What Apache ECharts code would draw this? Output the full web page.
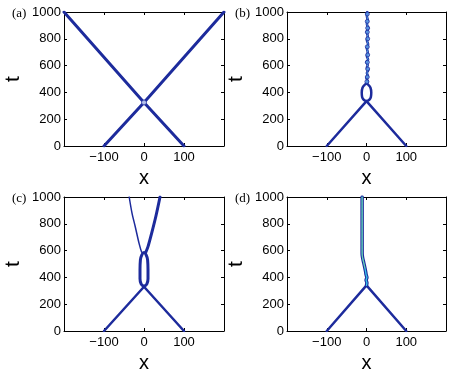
<!DOCTYPE html>
<html>
<head>
<meta charset="utf-8">
<script src="https://cdn.jsdelivr.net/npm/echarts@6/dist/echarts.min.js"></script>
<style>
  html, body { margin: 0; padding: 0; background: #fff; }
  #chart { width: 451px; height: 376px; }
</style>
</head>
<body>
<div id="chart"></div>
<script>
// tick labels
var xTicks = [-200, -100, 0, 100, 200];
var tTicks = [0, 200, 400, 600, 800, 1000];
var panelNames = ['(a)', '(b)', '(c)', '(d)'];

// (a) two solitons pass through each other
var aLine1 = [[-100, 0], [0, 325], [200, 1000]];
var aLine2 = [[100, 0], [0, 325], [-200, 1000]];
var aSpot = [[0, 325]];

// (b) bound state, oval then a chain of small loops
var bLeft = [[-100, 0], [0, 335]];
var bRight = [[100, 0], [0, 335]];
var bOval = [[0, 335], [-7, 345], [-11, 365], [-12, 400], [-10, 435], [-5, 455], [0, 465],
  [5, 455], [10, 435], [12, 400], [11, 365], [7, 345], [0, 335]];
var bChain = [[1, 465], [3, 485], [0, 505], [3, 525], [1, 545], [4, 565], [1, 585], [3, 605],
  [0, 625], [4, 645], [1, 670], [3, 700], [1, 730], [4, 760], [1, 790], [3, 820], [1, 850],
  [4, 880], [1, 910], [3, 940], [1, 970], [2, 1000]];
var bBeads = [[1, 480], [2, 515], [3, 575], [2, 625], [3, 680], [2, 740], [3, 800],
  [2, 850], [3, 880], [2, 930], [2, 985]];

// (c) oval, then the pair separates
var cLeft = [[-100, 0], [0, 330]];
var cRight = [[100, 0], [0, 330]];
var cOval = [[0, 335], [-7, 350], [-10, 390], [-10, 460], [-9, 530], [-5, 570], [0, 585],
  [5, 570], [9, 530], [10, 460], [10, 390], [7, 350], [0, 335]];
var cUpLeft = [[-2, 580], [-6, 590], [-12, 650], [-22, 780], [-30, 880], [-37, 1000]];
var cUpRight = [[4, 585], [10, 630], [20, 740], [30, 860], [40, 1000]];

// (d) fusion into one
var dLeft = [[-100, 0], [0, 340]];
var dRight = [[100, 0], [0, 340]];
var dUp = [[0, 340], [1, 360], [-1, 380], [1, 400], [-1, 420], [-2, 440], [-4, 470],
  [-7, 510], [-10, 550], [-11, 580], [-11, 700], [-11, 850], [-11, 1000]];
var dCore = [[-4, 470], [-7, 510], [-10, 550], [-11, 580], [-11, 700], [-11, 850], [-11, 1000]];

var blue = '#1d2b9c';
var grids = [
  { left: 64, top: 12, width: 160, height: 134 },
  { left: 287, top: 12, width: 159, height: 134 },
  { left: 64, top: 197, width: 160, height: 134 },
  { left: 287, top: 197, width: 159, height: 134 }
];

var font = 'Liberation Sans, Arial, Helvetica, sans-serif';
var xAxes = [], yAxes = [], series = [], graphics = [];

grids.forEach(function (g, i) {
  var lineStyle = { color: '#000', width: 1 };
  xAxes.push({
    gridIndex: i, type: 'value', min: xTicks[0], max: xTicks[xTicks.length - 1], interval: 100,
    position: 'bottom',
    name: 'x', nameLocation: 'middle', nameGap: 22,
    nameTextStyle: { fontFamily: font, fontSize: 20, color: '#000' },
    axisLine: { show: true, onZero: false, lineStyle: lineStyle },
    axisTick: { show: true, inside: true, length: 3, lineStyle: lineStyle },
    axisLabel: {
      fontFamily: font, fontSize: 13, color: '#000', margin: 5,
      formatter: function (v) {
        if (v === xTicks[0] || v === xTicks[xTicks.length - 1]) return '';
        return v < 0 ? '\u2212' + (-v) : String(v);
      }
    },
    splitLine: { show: false }
  });
  xAxes.push({
    gridIndex: i, type: 'value', min: xTicks[0], max: xTicks[xTicks.length - 1], interval: 100,
    position: 'top',
    axisLine: { show: true, onZero: false, lineStyle: lineStyle },
    axisTick: { show: true, inside: true, length: 3, lineStyle: lineStyle },
    axisLabel: { show: false }, splitLine: { show: false }
  });
  yAxes.push({
    gridIndex: i, type: 'value', min: tTicks[0], max: tTicks[tTicks.length - 1], interval: 200,
    position: 'left',
    name: 't', nameLocation: 'middle', nameGap: 40, nameRotate: 90,
    nameTextStyle: { fontFamily: font, fontSize: 21, color: '#000' },
    axisLine: { show: true, onZero: false, lineStyle: lineStyle },
    axisTick: { show: true, inside: true, length: 3, lineStyle: lineStyle },
    axisLabel: {
      fontFamily: font, fontSize: 13, color: '#000', margin: 3,
      formatter: function (v) { return String(v); }
    },
    splitLine: { show: false }
  });
  yAxes.push({
    gridIndex: i, type: 'value', min: tTicks[0], max: tTicks[tTicks.length - 1], interval: 200,
    position: 'right',
    axisLine: { show: true, onZero: false, lineStyle: lineStyle },
    axisTick: { show: true, inside: true, length: 3, lineStyle: lineStyle },
    axisLabel: { show: false }, splitLine: { show: false }
  });
  graphics.push({
    type: 'text', left: g.left - 52, top: g.top - 5,
    style: { text: panelNames[i], font: '13px "Liberation Serif", "Times New Roman", serif', fill: '#000' }
  });
});

function line(i, data, color, width, smooth, z) {
  return {
    type: 'line', xAxisIndex: 2 * i, yAxisIndex: 2 * i, data: data,
    showSymbol: false, smooth: smooth || false, z: z || 2, silent: true,
    lineStyle: { color: color, width: width, cap: 'round', join: 'round' }
  };
}

// (a)
series.push(line(0, aLine1, blue, 3));
series.push(line(0, aLine2, blue, 3));
series.push({
  type: 'scatter', xAxisIndex: 0, yAxisIndex: 0, data: aSpot, symbolSize: 5, z: 3,
  itemStyle: { color: '#d8e4ff', borderColor: blue, borderWidth: 1 }
});
// (b)
series.push(line(1, bLeft, blue, 2.5));
series.push(line(1, bRight, blue, 2.5));
series.push(line(1, bOval, blue, 2.5, 0.5));
series.push(line(1, bChain, blue, 2.5, 0.3));
series.push(line(1, bChain, '#4a9ae8', 1, 0.3, 3));
series.push({
  type: 'scatter', xAxisIndex: 2, yAxisIndex: 2, data: bBeads, symbolSize: 4, z: 4,
  itemStyle: { color: '#5b9be6', borderColor: blue, borderWidth: 1 }
});
// (c)
series.push(line(2, cLeft, blue, 2.5));
series.push(line(2, cRight, blue, 2.5));
series.push(line(2, cOval, blue, 3, 0.5));
series.push(line(2, cUpLeft, blue, 1.5, 0.3));
series.push(line(2, cUpRight, blue, 3, 0.3));
// (d)
series.push(line(3, dLeft, blue, 2.5));
series.push(line(3, dRight, blue, 2.5));
series.push(line(3, dUp, blue, 3.5, 0.3));
series.push(line(3, dUp, '#36c4ec', 1.3, 0.3, 3));
series.push(line(3, dCore, '#b8e05a', 0.5, 0.3, 4));

var chart = echarts.init(document.getElementById('chart'), null, { renderer: 'canvas' });
chart.setOption({
  animation: false,
  backgroundColor: '#fff',
  grid: grids,
  xAxis: xAxes,
  yAxis: yAxes,
  series: series,
  graphic: graphics
});
</script>
</body>
</html>
